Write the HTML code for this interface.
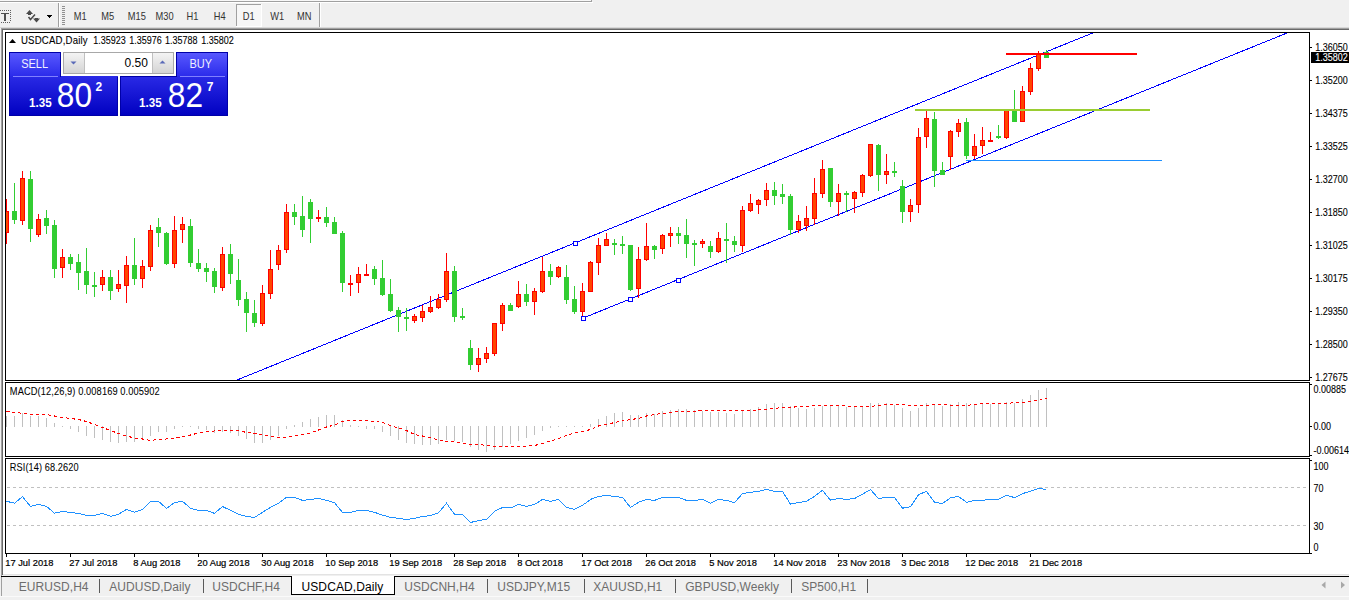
<!DOCTYPE html><html><head><meta charset="utf-8"><style>
html,body{margin:0;padding:0;width:1349px;height:600px;overflow:hidden;background:#f0f0f0;}
svg{position:absolute;left:0;top:0;display:block}
text{font-family:"Liberation Sans",sans-serif;}
.ax{font-size:10px;letter-spacing:-0.6px;fill:#000}
.dt{font-size:10px;letter-spacing:-0.5px;fill:#000}
.tb{font-size:10px;fill:#1a1a1a;letter-spacing:-0.5px}
.tab{font-size:12px;fill:#6d6d6d}
</style></head><body>
<svg width="1349" height="600" viewBox="0 0 1349 600" shape-rendering="crispEdges">
<rect x="0" y="0" width="1349" height="600" fill="#f0f0f0"/>
<rect x="0" y="0" width="591" height="1" fill="#f8f8f8"/>
<rect x="0" y="1" width="592" height="1" fill="#a0a0a0"/>
<rect x="591" y="0" width="1" height="2" fill="#a0a0a0"/>
<rect x="0" y="2" width="593" height="1" fill="#ffffff"/>
<rect x="0" y="10" width="1" height="1" fill="#606060"/>
<rect x="2" y="10" width="1" height="1" fill="#606060"/>
<rect x="4" y="10" width="1" height="1" fill="#606060"/>
<rect x="6" y="10" width="1" height="1" fill="#606060"/>
<rect x="8" y="10" width="1" height="1" fill="#606060"/>
<rect x="10" y="10" width="1" height="1" fill="#606060"/>
<rect x="10" y="12" width="1" height="1" fill="#606060"/>
<rect x="10" y="14" width="1" height="1" fill="#606060"/>
<rect x="10" y="16" width="1" height="1" fill="#606060"/>
<rect x="10" y="18" width="1" height="1" fill="#606060"/>
<rect x="10" y="20" width="1" height="1" fill="#606060"/>
<rect x="1" y="22" width="1" height="1" fill="#606060"/>
<rect x="3" y="22" width="1" height="1" fill="#606060"/>
<rect x="5" y="22" width="1" height="1" fill="#606060"/>
<rect x="7" y="22" width="1" height="1" fill="#606060"/>
<rect x="9" y="22" width="1" height="1" fill="#606060"/>
<rect x="1" y="13" width="8" height="1" fill="#505050"/><rect x="4" y="13" width="2" height="8" fill="#505050"/>
<g shape-rendering="geometricPrecision" fill="#4a4a4a"><path d="M26 14 L29.5 10 L33 14 Z"/><path d="M33 18.5 L40 18.5 L36.5 22.5 Z"/></g>
<rect x="28" y="14" width="3" height="1" fill="#4a4a4a"/><rect x="35" y="18" width="3" height="1" fill="#4a4a4a"/>
<path d="M28.5 17 L30.5 19.5 L35 14.5" stroke="#4a4a4a" stroke-width="1.5" fill="none" shape-rendering="geometricPrecision"/>
<rect x="47" y="15" width="5" height="1" fill="#000"/><rect x="48" y="16" width="3" height="1" fill="#000"/><rect x="49" y="17" width="1" height="1" fill="#000"/>
<rect x="58" y="3" width="1" height="25" fill="#a0a0a0"/><rect x="59" y="3" width="1" height="25" fill="#fff"/>
<rect x="62" y="6" width="3" height="1" fill="#909090"/>
<rect x="62" y="8" width="3" height="1" fill="#909090"/>
<rect x="62" y="10" width="3" height="1" fill="#909090"/>
<rect x="62" y="12" width="3" height="1" fill="#909090"/>
<rect x="62" y="14" width="3" height="1" fill="#909090"/>
<rect x="62" y="16" width="3" height="1" fill="#909090"/>
<rect x="62" y="18" width="3" height="1" fill="#909090"/>
<rect x="62" y="20" width="3" height="1" fill="#909090"/>
<rect x="62" y="22" width="3" height="1" fill="#909090"/>
<rect x="62" y="24" width="3" height="1" fill="#909090"/>
<rect x="319" y="3" width="1" height="25" fill="#a0a0a0"/><rect x="320" y="3" width="1" height="25" fill="#fff"/>
<rect x="236" y="4" width="26" height="23" fill="#f7f7f7"/>
<rect x="236" y="4" width="26" height="1" fill="#a0a0a0"/><rect x="236" y="4" width="1" height="23" fill="#a0a0a0"/>
<rect x="261" y="4" width="1" height="23" fill="#fff"/><rect x="236" y="26" width="26" height="1" fill="#fff"/>
<text transform="translate(73.8,20) scale(0.93,1)" style="font-size:10px;fill:#333;">M1</text>
<text transform="translate(101.3,20) scale(0.93,1)" style="font-size:10px;fill:#333;">M5</text>
<text transform="translate(127.8,20) scale(0.93,1)" style="font-size:10px;fill:#333;">M15</text>
<text transform="translate(155.60000000000002,20) scale(0.93,1)" style="font-size:10px;fill:#333;">M30</text>
<text transform="translate(186.60000000000002,20) scale(0.93,1)" style="font-size:10px;fill:#333;">H1</text>
<text transform="translate(213.70000000000002,20) scale(0.93,1)" style="font-size:10px;fill:#333;">H4</text>
<text transform="translate(242.70000000000002,20) scale(0.93,1)" style="font-size:10px;fill:#333;">D1</text>
<text transform="translate(270.3,20) scale(0.93,1)" style="font-size:10px;fill:#333;">W1</text>
<text transform="translate(297.1,20) scale(0.93,1)" style="font-size:10px;fill:#333;">MN</text>
<rect x="0" y="27" width="1349" height="1" fill="#d8d8d8"/>
<rect x="1" y="28" width="1348" height="1" fill="#a0a0a0"/>
<rect x="1" y="28" width="1" height="568" fill="#a0a0a0"/>
<rect x="2" y="29" width="1347" height="1" fill="#696969"/>
<rect x="2" y="29" width="1" height="546" fill="#696969"/>
<rect x="3" y="30" width="1346" height="544" fill="#ffffff"/>
<rect x="3" y="574" width="1346" height="1" fill="#e3e3e3"/>
<rect x="5" y="32" width="1305" height="1" fill="#000"/>
<rect x="5" y="380" width="1305" height="1" fill="#000"/>
<rect x="5" y="32" width="1" height="349" fill="#000"/>
<rect x="1309" y="32" width="1" height="349" fill="#000"/>
<rect x="5" y="382" width="1305" height="1" fill="#000"/>
<rect x="5" y="456" width="1305" height="1" fill="#000"/>
<rect x="5" y="382" width="1" height="75" fill="#000"/>
<rect x="1309" y="382" width="1" height="75" fill="#000"/>
<rect x="5" y="458" width="1305" height="1" fill="#000"/>
<rect x="5" y="553" width="1305" height="1" fill="#000"/>
<rect x="5" y="458" width="1" height="96" fill="#000"/>
<rect x="1309" y="458" width="1" height="96" fill="#000"/>
<defs><clipPath id="cm"><rect x="6" y="33" width="1303" height="347"/></clipPath>
<clipPath id="c2"><rect x="6" y="383" width="1303" height="73"/></clipPath>
<clipPath id="c3"><rect x="6" y="459" width="1303" height="94"/></clipPath></defs>
<g clip-path="url(#cm)">
<g shape-rendering="crispEdges" stroke="#0000ff" stroke-width="1" fill="none">
<line x1="237" y1="380" x2="1095" y2="32"/>
<line x1="582.5" y1="318.3" x2="1288" y2="32.6"/>
</g>
<rect x="6" y="199" width="1" height="45" fill="#ff0000"/>
<rect x="4" y="211" width="5" height="22" fill="#ff0000"/>
<rect x="5" y="212" width="3" height="20" fill="#ff4500"/>
<rect x="14" y="183" width="1" height="41" fill="#32cd32"/>
<rect x="12" y="211" width="5" height="9" fill="#32cd32"/>
<rect x="22" y="171" width="1" height="54" fill="#ff0000"/>
<rect x="20" y="178" width="5" height="43" fill="#ff0000"/>
<rect x="21" y="179" width="3" height="41" fill="#ff4500"/>
<rect x="30" y="171" width="1" height="71" fill="#32cd32"/>
<rect x="28" y="179" width="5" height="50" fill="#32cd32"/>
<rect x="38" y="214" width="1" height="23" fill="#ff0000"/>
<rect x="36" y="219" width="5" height="16" fill="#ff0000"/>
<rect x="37" y="220" width="3" height="14" fill="#ff4500"/>
<rect x="46" y="210" width="1" height="24" fill="#32cd32"/>
<rect x="44" y="218" width="5" height="8" fill="#32cd32"/>
<rect x="54" y="220" width="1" height="58" fill="#32cd32"/>
<rect x="52" y="225" width="5" height="44" fill="#32cd32"/>
<rect x="62" y="249" width="1" height="29" fill="#ff0000"/>
<rect x="60" y="257" width="5" height="11" fill="#ff0000"/>
<rect x="61" y="258" width="3" height="9" fill="#ff4500"/>
<rect x="70" y="254" width="1" height="16" fill="#32cd32"/>
<rect x="68" y="257" width="5" height="7" fill="#32cd32"/>
<rect x="78" y="254" width="1" height="36" fill="#32cd32"/>
<rect x="76" y="262" width="5" height="11" fill="#32cd32"/>
<rect x="86" y="248" width="1" height="46" fill="#32cd32"/>
<rect x="84" y="271" width="5" height="14" fill="#32cd32"/>
<rect x="94" y="272" width="1" height="25" fill="#32cd32"/>
<rect x="92" y="285" width="5" height="2" fill="#32cd32"/>
<rect x="102" y="270" width="1" height="21" fill="#ff0000"/>
<rect x="100" y="277" width="5" height="8" fill="#ff0000"/>
<rect x="101" y="278" width="3" height="6" fill="#ff4500"/>
<rect x="110" y="270" width="1" height="30" fill="#32cd32"/>
<rect x="108" y="277" width="5" height="14" fill="#32cd32"/>
<rect x="118" y="270" width="1" height="22" fill="#ff0000"/>
<rect x="116" y="284" width="5" height="5" fill="#ff0000"/>
<rect x="117" y="285" width="3" height="3" fill="#ff4500"/>
<rect x="126" y="256" width="1" height="47" fill="#ff0000"/>
<rect x="124" y="265" width="5" height="21" fill="#ff0000"/>
<rect x="125" y="266" width="3" height="19" fill="#ff4500"/>
<rect x="134" y="238" width="1" height="47" fill="#32cd32"/>
<rect x="132" y="265" width="5" height="14" fill="#32cd32"/>
<rect x="142" y="260" width="1" height="28" fill="#ff0000"/>
<rect x="140" y="266" width="5" height="13" fill="#ff0000"/>
<rect x="141" y="267" width="3" height="11" fill="#ff4500"/>
<rect x="150" y="225" width="1" height="46" fill="#ff0000"/>
<rect x="148" y="230" width="5" height="37" fill="#ff0000"/>
<rect x="149" y="231" width="3" height="35" fill="#ff4500"/>
<rect x="158" y="218" width="1" height="29" fill="#32cd32"/>
<rect x="156" y="227" width="5" height="6" fill="#32cd32"/>
<rect x="166" y="232" width="1" height="33" fill="#32cd32"/>
<rect x="164" y="233" width="5" height="31" fill="#32cd32"/>
<rect x="174" y="216" width="1" height="52" fill="#ff0000"/>
<rect x="172" y="230" width="5" height="34" fill="#ff0000"/>
<rect x="173" y="231" width="3" height="32" fill="#ff4500"/>
<rect x="182" y="217" width="1" height="26" fill="#ff0000"/>
<rect x="180" y="224" width="5" height="6" fill="#ff0000"/>
<rect x="181" y="225" width="3" height="4" fill="#ff4500"/>
<rect x="190" y="219" width="1" height="48" fill="#32cd32"/>
<rect x="188" y="226" width="5" height="37" fill="#32cd32"/>
<rect x="198" y="249" width="1" height="23" fill="#32cd32"/>
<rect x="196" y="263" width="5" height="6" fill="#32cd32"/>
<rect x="206" y="263" width="1" height="19" fill="#32cd32"/>
<rect x="204" y="268" width="5" height="4" fill="#32cd32"/>
<rect x="214" y="268" width="1" height="25" fill="#32cd32"/>
<rect x="212" y="271" width="5" height="16" fill="#32cd32"/>
<rect x="222" y="247" width="1" height="44" fill="#ff0000"/>
<rect x="220" y="254" width="5" height="34" fill="#ff0000"/>
<rect x="221" y="255" width="3" height="32" fill="#ff4500"/>
<rect x="230" y="244" width="1" height="40" fill="#32cd32"/>
<rect x="228" y="254" width="5" height="20" fill="#32cd32"/>
<rect x="238" y="259" width="1" height="47" fill="#32cd32"/>
<rect x="236" y="280" width="5" height="20" fill="#32cd32"/>
<rect x="246" y="292" width="1" height="40" fill="#32cd32"/>
<rect x="244" y="299" width="5" height="14" fill="#32cd32"/>
<rect x="254" y="300" width="1" height="27" fill="#32cd32"/>
<rect x="252" y="313" width="5" height="10" fill="#32cd32"/>
<rect x="262" y="285" width="1" height="41" fill="#ff0000"/>
<rect x="260" y="293" width="5" height="31" fill="#ff0000"/>
<rect x="261" y="294" width="3" height="29" fill="#ff4500"/>
<rect x="270" y="250" width="1" height="49" fill="#ff0000"/>
<rect x="268" y="269" width="5" height="25" fill="#ff0000"/>
<rect x="269" y="270" width="3" height="23" fill="#ff4500"/>
<rect x="278" y="245" width="1" height="25" fill="#ff0000"/>
<rect x="276" y="250" width="5" height="15" fill="#ff0000"/>
<rect x="277" y="251" width="3" height="13" fill="#ff4500"/>
<rect x="286" y="204" width="1" height="49" fill="#ff0000"/>
<rect x="284" y="212" width="5" height="38" fill="#ff0000"/>
<rect x="285" y="213" width="3" height="36" fill="#ff4500"/>
<rect x="294" y="204" width="1" height="21" fill="#32cd32"/>
<rect x="292" y="212" width="5" height="5" fill="#32cd32"/>
<rect x="302" y="196" width="1" height="41" fill="#32cd32"/>
<rect x="300" y="216" width="5" height="14" fill="#32cd32"/>
<rect x="310" y="199" width="1" height="44" fill="#32cd32"/>
<rect x="308" y="202" width="5" height="17" fill="#32cd32"/>
<rect x="318" y="210" width="1" height="12" fill="#ff0000"/>
<rect x="316" y="217" width="5" height="2" fill="#ff0000"/>
<rect x="326" y="207" width="1" height="20" fill="#32cd32"/>
<rect x="324" y="217" width="5" height="6" fill="#32cd32"/>
<rect x="334" y="217" width="1" height="17" fill="#32cd32"/>
<rect x="332" y="222" width="5" height="12" fill="#32cd32"/>
<rect x="342" y="231" width="1" height="61" fill="#32cd32"/>
<rect x="340" y="233" width="5" height="50" fill="#32cd32"/>
<rect x="350" y="275" width="1" height="21" fill="#ff0000"/>
<rect x="348" y="283" width="5" height="2" fill="#ff0000"/>
<rect x="358" y="267" width="1" height="26" fill="#ff0000"/>
<rect x="356" y="274" width="5" height="9" fill="#ff0000"/>
<rect x="357" y="275" width="3" height="7" fill="#ff4500"/>
<rect x="366" y="264" width="1" height="11" fill="#ff0000"/>
<rect x="364" y="274" width="5" height="2" fill="#ff0000"/>
<rect x="374" y="266" width="1" height="19" fill="#32cd32"/>
<rect x="372" y="269" width="5" height="10" fill="#32cd32"/>
<rect x="382" y="260" width="1" height="36" fill="#32cd32"/>
<rect x="380" y="278" width="5" height="17" fill="#32cd32"/>
<rect x="390" y="279" width="1" height="33" fill="#32cd32"/>
<rect x="388" y="294" width="5" height="17" fill="#32cd32"/>
<rect x="398" y="307" width="1" height="25" fill="#32cd32"/>
<rect x="396" y="310" width="5" height="7" fill="#32cd32"/>
<rect x="406" y="308" width="1" height="23" fill="#32cd32"/>
<rect x="404" y="317" width="5" height="2" fill="#32cd32"/>
<rect x="414" y="314" width="1" height="9" fill="#ff0000"/>
<rect x="412" y="316" width="5" height="5" fill="#ff0000"/>
<rect x="413" y="317" width="3" height="3" fill="#ff4500"/>
<rect x="422" y="305" width="1" height="17" fill="#ff0000"/>
<rect x="420" y="311" width="5" height="7" fill="#ff0000"/>
<rect x="421" y="312" width="3" height="5" fill="#ff4500"/>
<rect x="430" y="296" width="1" height="17" fill="#ff0000"/>
<rect x="428" y="307" width="5" height="5" fill="#ff0000"/>
<rect x="429" y="308" width="3" height="3" fill="#ff4500"/>
<rect x="438" y="294" width="1" height="15" fill="#ff0000"/>
<rect x="436" y="299" width="5" height="9" fill="#ff0000"/>
<rect x="437" y="300" width="3" height="7" fill="#ff4500"/>
<rect x="446" y="253" width="1" height="49" fill="#ff0000"/>
<rect x="444" y="271" width="5" height="29" fill="#ff0000"/>
<rect x="445" y="272" width="3" height="27" fill="#ff4500"/>
<rect x="454" y="266" width="1" height="56" fill="#32cd32"/>
<rect x="452" y="271" width="5" height="46" fill="#32cd32"/>
<rect x="462" y="308" width="1" height="12" fill="#32cd32"/>
<rect x="460" y="316" width="5" height="2" fill="#32cd32"/>
<rect x="470" y="340" width="1" height="30" fill="#32cd32"/>
<rect x="468" y="348" width="5" height="17" fill="#32cd32"/>
<rect x="478" y="348" width="1" height="24" fill="#ff0000"/>
<rect x="476" y="358" width="5" height="7" fill="#ff0000"/>
<rect x="477" y="359" width="3" height="5" fill="#ff4500"/>
<rect x="486" y="347" width="1" height="16" fill="#ff0000"/>
<rect x="484" y="353" width="5" height="6" fill="#ff0000"/>
<rect x="485" y="354" width="3" height="4" fill="#ff4500"/>
<rect x="494" y="323" width="1" height="33" fill="#ff0000"/>
<rect x="492" y="323" width="5" height="31" fill="#ff0000"/>
<rect x="493" y="324" width="3" height="29" fill="#ff4500"/>
<rect x="502" y="303" width="1" height="28" fill="#ff0000"/>
<rect x="500" y="305" width="5" height="19" fill="#ff0000"/>
<rect x="501" y="306" width="3" height="17" fill="#ff4500"/>
<rect x="510" y="303" width="1" height="8" fill="#32cd32"/>
<rect x="508" y="305" width="5" height="6" fill="#32cd32"/>
<rect x="518" y="281" width="1" height="27" fill="#ff0000"/>
<rect x="516" y="294" width="5" height="13" fill="#ff0000"/>
<rect x="517" y="295" width="3" height="11" fill="#ff4500"/>
<rect x="526" y="284" width="1" height="22" fill="#32cd32"/>
<rect x="524" y="294" width="5" height="8" fill="#32cd32"/>
<rect x="534" y="288" width="1" height="27" fill="#ff0000"/>
<rect x="532" y="291" width="5" height="11" fill="#ff0000"/>
<rect x="533" y="292" width="3" height="9" fill="#ff4500"/>
<rect x="542" y="257" width="1" height="36" fill="#ff0000"/>
<rect x="540" y="271" width="5" height="21" fill="#ff0000"/>
<rect x="541" y="272" width="3" height="19" fill="#ff4500"/>
<rect x="550" y="264" width="1" height="21" fill="#32cd32"/>
<rect x="548" y="271" width="5" height="6" fill="#32cd32"/>
<rect x="558" y="266" width="1" height="12" fill="#ff0000"/>
<rect x="556" y="267" width="5" height="10" fill="#ff0000"/>
<rect x="557" y="268" width="3" height="8" fill="#ff4500"/>
<rect x="566" y="265" width="1" height="39" fill="#32cd32"/>
<rect x="564" y="277" width="5" height="23" fill="#32cd32"/>
<rect x="574" y="286" width="1" height="28" fill="#32cd32"/>
<rect x="572" y="299" width="5" height="13" fill="#32cd32"/>
<rect x="582" y="283" width="1" height="34" fill="#ff0000"/>
<rect x="580" y="291" width="5" height="21" fill="#ff0000"/>
<rect x="581" y="292" width="3" height="19" fill="#ff4500"/>
<rect x="590" y="261" width="1" height="31" fill="#ff0000"/>
<rect x="588" y="262" width="5" height="30" fill="#ff0000"/>
<rect x="589" y="263" width="3" height="28" fill="#ff4500"/>
<rect x="598" y="238" width="1" height="37" fill="#ff0000"/>
<rect x="596" y="245" width="5" height="18" fill="#ff0000"/>
<rect x="597" y="246" width="3" height="16" fill="#ff4500"/>
<rect x="606" y="233" width="1" height="13" fill="#ff0000"/>
<rect x="604" y="239" width="5" height="7" fill="#ff0000"/>
<rect x="605" y="240" width="3" height="5" fill="#ff4500"/>
<rect x="614" y="239" width="1" height="16" fill="#32cd32"/>
<rect x="612" y="243" width="5" height="2" fill="#32cd32"/>
<rect x="622" y="236" width="1" height="18" fill="#32cd32"/>
<rect x="620" y="244" width="5" height="2" fill="#32cd32"/>
<rect x="630" y="245" width="1" height="46" fill="#32cd32"/>
<rect x="628" y="245" width="5" height="45" fill="#32cd32"/>
<rect x="638" y="247" width="1" height="51" fill="#ff0000"/>
<rect x="636" y="259" width="5" height="30" fill="#ff0000"/>
<rect x="637" y="260" width="3" height="28" fill="#ff4500"/>
<rect x="646" y="223" width="1" height="38" fill="#ff0000"/>
<rect x="644" y="246" width="5" height="14" fill="#ff0000"/>
<rect x="645" y="247" width="3" height="12" fill="#ff4500"/>
<rect x="654" y="245" width="1" height="14" fill="#32cd32"/>
<rect x="652" y="246" width="5" height="4" fill="#32cd32"/>
<rect x="662" y="234" width="1" height="20" fill="#ff0000"/>
<rect x="660" y="235" width="5" height="14" fill="#ff0000"/>
<rect x="661" y="236" width="3" height="12" fill="#ff4500"/>
<rect x="670" y="227" width="1" height="20" fill="#ff0000"/>
<rect x="668" y="233" width="5" height="3" fill="#ff0000"/>
<rect x="669" y="234" width="3" height="1" fill="#ff4500"/>
<rect x="678" y="227" width="1" height="17" fill="#32cd32"/>
<rect x="676" y="233" width="5" height="3" fill="#32cd32"/>
<rect x="686" y="219" width="1" height="39" fill="#32cd32"/>
<rect x="684" y="235" width="5" height="9" fill="#32cd32"/>
<rect x="694" y="240" width="1" height="26" fill="#32cd32"/>
<rect x="692" y="243" width="5" height="2" fill="#32cd32"/>
<rect x="702" y="239" width="1" height="9" fill="#ff0000"/>
<rect x="700" y="241" width="5" height="3" fill="#ff0000"/>
<rect x="701" y="242" width="3" height="1" fill="#ff4500"/>
<rect x="710" y="241" width="1" height="17" fill="#32cd32"/>
<rect x="708" y="246" width="5" height="6" fill="#32cd32"/>
<rect x="718" y="232" width="1" height="21" fill="#ff0000"/>
<rect x="716" y="238" width="5" height="14" fill="#ff0000"/>
<rect x="717" y="239" width="3" height="12" fill="#ff4500"/>
<rect x="726" y="223" width="1" height="40" fill="#32cd32"/>
<rect x="724" y="239" width="5" height="2" fill="#32cd32"/>
<rect x="734" y="236" width="1" height="16" fill="#32cd32"/>
<rect x="732" y="241" width="5" height="4" fill="#32cd32"/>
<rect x="742" y="206" width="1" height="46" fill="#ff0000"/>
<rect x="740" y="210" width="5" height="36" fill="#ff0000"/>
<rect x="741" y="211" width="3" height="34" fill="#ff4500"/>
<rect x="750" y="194" width="1" height="18" fill="#ff0000"/>
<rect x="748" y="203" width="5" height="8" fill="#ff0000"/>
<rect x="749" y="204" width="3" height="6" fill="#ff4500"/>
<rect x="758" y="199" width="1" height="15" fill="#ff0000"/>
<rect x="756" y="200" width="5" height="5" fill="#ff0000"/>
<rect x="757" y="201" width="3" height="3" fill="#ff4500"/>
<rect x="766" y="183" width="1" height="23" fill="#ff0000"/>
<rect x="764" y="190" width="5" height="10" fill="#ff0000"/>
<rect x="765" y="191" width="3" height="8" fill="#ff4500"/>
<rect x="774" y="182" width="1" height="23" fill="#32cd32"/>
<rect x="772" y="190" width="5" height="6" fill="#32cd32"/>
<rect x="782" y="184" width="1" height="20" fill="#32cd32"/>
<rect x="780" y="194" width="5" height="3" fill="#32cd32"/>
<rect x="790" y="194" width="1" height="41" fill="#32cd32"/>
<rect x="788" y="196" width="5" height="34" fill="#32cd32"/>
<rect x="798" y="215" width="1" height="18" fill="#ff0000"/>
<rect x="796" y="221" width="5" height="9" fill="#ff0000"/>
<rect x="797" y="222" width="3" height="7" fill="#ff4500"/>
<rect x="806" y="206" width="1" height="25" fill="#ff0000"/>
<rect x="804" y="218" width="5" height="8" fill="#ff0000"/>
<rect x="805" y="219" width="3" height="6" fill="#ff4500"/>
<rect x="814" y="178" width="1" height="47" fill="#ff0000"/>
<rect x="812" y="193" width="5" height="26" fill="#ff0000"/>
<rect x="813" y="194" width="3" height="24" fill="#ff4500"/>
<rect x="822" y="160" width="1" height="38" fill="#ff0000"/>
<rect x="820" y="169" width="5" height="25" fill="#ff0000"/>
<rect x="821" y="170" width="3" height="23" fill="#ff4500"/>
<rect x="830" y="168" width="1" height="39" fill="#32cd32"/>
<rect x="828" y="168" width="5" height="34" fill="#32cd32"/>
<rect x="838" y="184" width="1" height="32" fill="#ff0000"/>
<rect x="836" y="193" width="5" height="9" fill="#ff0000"/>
<rect x="837" y="194" width="3" height="7" fill="#ff4500"/>
<rect x="846" y="191" width="1" height="21" fill="#32cd32"/>
<rect x="844" y="193" width="5" height="2" fill="#32cd32"/>
<rect x="854" y="191" width="1" height="22" fill="#ff0000"/>
<rect x="852" y="192" width="5" height="7" fill="#ff0000"/>
<rect x="853" y="193" width="3" height="5" fill="#ff4500"/>
<rect x="862" y="174" width="1" height="23" fill="#ff0000"/>
<rect x="860" y="175" width="5" height="18" fill="#ff0000"/>
<rect x="861" y="176" width="3" height="16" fill="#ff4500"/>
<rect x="870" y="144" width="1" height="33" fill="#ff0000"/>
<rect x="868" y="144" width="5" height="32" fill="#ff0000"/>
<rect x="869" y="145" width="3" height="30" fill="#ff4500"/>
<rect x="878" y="144" width="1" height="47" fill="#32cd32"/>
<rect x="876" y="145" width="5" height="30" fill="#32cd32"/>
<rect x="886" y="154" width="1" height="30" fill="#ff0000"/>
<rect x="884" y="171" width="5" height="4" fill="#ff0000"/>
<rect x="885" y="172" width="3" height="2" fill="#ff4500"/>
<rect x="894" y="162" width="1" height="15" fill="#32cd32"/>
<rect x="892" y="171" width="5" height="2" fill="#32cd32"/>
<rect x="902" y="180" width="1" height="43" fill="#32cd32"/>
<rect x="900" y="186" width="5" height="26" fill="#32cd32"/>
<rect x="910" y="199" width="1" height="23" fill="#ff0000"/>
<rect x="908" y="205" width="5" height="7" fill="#ff0000"/>
<rect x="909" y="206" width="3" height="5" fill="#ff4500"/>
<rect x="918" y="128" width="1" height="85" fill="#ff0000"/>
<rect x="916" y="137" width="5" height="68" fill="#ff0000"/>
<rect x="917" y="138" width="3" height="66" fill="#ff4500"/>
<rect x="926" y="111" width="1" height="37" fill="#ff0000"/>
<rect x="924" y="118" width="5" height="19" fill="#ff0000"/>
<rect x="925" y="119" width="3" height="17" fill="#ff4500"/>
<rect x="934" y="112" width="1" height="75" fill="#32cd32"/>
<rect x="932" y="119" width="5" height="52" fill="#32cd32"/>
<rect x="942" y="162" width="1" height="13" fill="#32cd32"/>
<rect x="940" y="170" width="5" height="5" fill="#32cd32"/>
<rect x="950" y="130" width="1" height="40" fill="#ff0000"/>
<rect x="948" y="131" width="5" height="26" fill="#ff0000"/>
<rect x="949" y="132" width="3" height="24" fill="#ff4500"/>
<rect x="958" y="119" width="1" height="18" fill="#ff0000"/>
<rect x="956" y="123" width="5" height="9" fill="#ff0000"/>
<rect x="957" y="124" width="3" height="7" fill="#ff4500"/>
<rect x="966" y="118" width="1" height="41" fill="#32cd32"/>
<rect x="964" y="122" width="5" height="34" fill="#32cd32"/>
<rect x="974" y="134" width="1" height="25" fill="#ff0000"/>
<rect x="972" y="146" width="5" height="10" fill="#ff0000"/>
<rect x="973" y="147" width="3" height="8" fill="#ff4500"/>
<rect x="982" y="127" width="1" height="27" fill="#ff0000"/>
<rect x="980" y="140" width="5" height="6" fill="#ff0000"/>
<rect x="981" y="141" width="3" height="4" fill="#ff4500"/>
<rect x="990" y="132" width="1" height="9" fill="#ff0000"/>
<rect x="988" y="140" width="5" height="2" fill="#ff0000"/>
<rect x="998" y="125" width="1" height="14" fill="#32cd32"/>
<rect x="996" y="136" width="5" height="2" fill="#32cd32"/>
<rect x="1006" y="110" width="1" height="29" fill="#ff0000"/>
<rect x="1004" y="110" width="5" height="28" fill="#ff0000"/>
<rect x="1005" y="111" width="3" height="26" fill="#ff4500"/>
<rect x="1014" y="90" width="1" height="32" fill="#32cd32"/>
<rect x="1012" y="110" width="5" height="12" fill="#32cd32"/>
<rect x="1022" y="86" width="1" height="36" fill="#ff0000"/>
<rect x="1020" y="91" width="5" height="31" fill="#ff0000"/>
<rect x="1021" y="92" width="3" height="29" fill="#ff4500"/>
<rect x="1030" y="63" width="1" height="32" fill="#ff0000"/>
<rect x="1028" y="68" width="5" height="24" fill="#ff0000"/>
<rect x="1029" y="69" width="3" height="22" fill="#ff4500"/>
<rect x="1038" y="51" width="1" height="20" fill="#ff0000"/>
<rect x="1036" y="54" width="5" height="15" fill="#ff0000"/>
<rect x="1037" y="55" width="3" height="13" fill="#ff4500"/>
<rect x="1046" y="50" width="1" height="8" fill="#32cd32"/>
<rect x="1044" y="52" width="5" height="6" fill="#32cd32"/>
<rect x="1006" y="53" width="131" height="2" fill="#ff0000"/>
<rect x="915" y="109" width="235" height="2" fill="#9acd32"/>
<rect x="966" y="160" width="196" height="1" fill="#1e90ff"/>
<rect x="573.5" y="241.5" width="4" height="4" fill="#fff" stroke="#0000ff" stroke-width="1"/>
<rect x="581.5" y="316.5" width="4" height="4" fill="#fff" stroke="#0000ff" stroke-width="1"/>
<rect x="628.5" y="297.5" width="4" height="4" fill="#fff" stroke="#0000ff" stroke-width="1"/>
<rect x="676.5" y="278.5" width="4" height="4" fill="#fff" stroke="#0000ff" stroke-width="1"/>
</g>
<g clip-path="url(#c2)">
<rect x="6" y="416" width="1" height="11" fill="#c0c0c0"/>
<rect x="14" y="416" width="1" height="11" fill="#c0c0c0"/>
<rect x="22" y="413" width="1" height="14" fill="#c0c0c0"/>
<rect x="30" y="416" width="1" height="11" fill="#c0c0c0"/>
<rect x="38" y="416" width="1" height="11" fill="#c0c0c0"/>
<rect x="46" y="418" width="1" height="9" fill="#c0c0c0"/>
<rect x="54" y="423" width="1" height="4" fill="#c0c0c0"/>
<rect x="62" y="426" width="1" height="1" fill="#c0c0c0"/>
<rect x="70" y="426" width="1" height="3" fill="#c0c0c0"/>
<rect x="78" y="426" width="1" height="6" fill="#c0c0c0"/>
<rect x="86" y="426" width="1" height="10" fill="#c0c0c0"/>
<rect x="94" y="426" width="1" height="12" fill="#c0c0c0"/>
<rect x="102" y="426" width="1" height="14" fill="#c0c0c0"/>
<rect x="110" y="426" width="1" height="16" fill="#c0c0c0"/>
<rect x="118" y="426" width="1" height="17" fill="#c0c0c0"/>
<rect x="126" y="426" width="1" height="16" fill="#c0c0c0"/>
<rect x="134" y="426" width="1" height="16" fill="#c0c0c0"/>
<rect x="142" y="426" width="1" height="14" fill="#c0c0c0"/>
<rect x="150" y="426" width="1" height="10" fill="#c0c0c0"/>
<rect x="158" y="426" width="1" height="6" fill="#c0c0c0"/>
<rect x="166" y="426" width="1" height="6" fill="#c0c0c0"/>
<rect x="174" y="426" width="1" height="3" fill="#c0c0c0"/>
<rect x="182" y="426" width="1" height="1" fill="#c0c0c0"/>
<rect x="190" y="426" width="1" height="1" fill="#c0c0c0"/>
<rect x="198" y="426" width="1" height="3" fill="#c0c0c0"/>
<rect x="206" y="426" width="1" height="4" fill="#c0c0c0"/>
<rect x="214" y="426" width="1" height="7" fill="#c0c0c0"/>
<rect x="222" y="426" width="1" height="6" fill="#c0c0c0"/>
<rect x="230" y="426" width="1" height="7" fill="#c0c0c0"/>
<rect x="238" y="426" width="1" height="10" fill="#c0c0c0"/>
<rect x="246" y="426" width="1" height="13" fill="#c0c0c0"/>
<rect x="254" y="426" width="1" height="17" fill="#c0c0c0"/>
<rect x="262" y="426" width="1" height="17" fill="#c0c0c0"/>
<rect x="270" y="426" width="1" height="14" fill="#c0c0c0"/>
<rect x="278" y="426" width="1" height="10" fill="#c0c0c0"/>
<rect x="286" y="426" width="1" height="3" fill="#c0c0c0"/>
<rect x="294" y="425" width="1" height="2" fill="#c0c0c0"/>
<rect x="302" y="422" width="1" height="5" fill="#c0c0c0"/>
<rect x="310" y="419" width="1" height="8" fill="#c0c0c0"/>
<rect x="318" y="417" width="1" height="10" fill="#c0c0c0"/>
<rect x="326" y="415" width="1" height="12" fill="#c0c0c0"/>
<rect x="334" y="415" width="1" height="12" fill="#c0c0c0"/>
<rect x="342" y="420" width="1" height="7" fill="#c0c0c0"/>
<rect x="350" y="425" width="1" height="2" fill="#c0c0c0"/>
<rect x="358" y="426" width="1" height="1" fill="#c0c0c0"/>
<rect x="366" y="426" width="1" height="3" fill="#c0c0c0"/>
<rect x="374" y="426" width="1" height="3" fill="#c0c0c0"/>
<rect x="382" y="426" width="1" height="6" fill="#c0c0c0"/>
<rect x="390" y="426" width="1" height="10" fill="#c0c0c0"/>
<rect x="398" y="426" width="1" height="14" fill="#c0c0c0"/>
<rect x="406" y="426" width="1" height="17" fill="#c0c0c0"/>
<rect x="414" y="426" width="1" height="18" fill="#c0c0c0"/>
<rect x="422" y="426" width="1" height="19" fill="#c0c0c0"/>
<rect x="430" y="426" width="1" height="19" fill="#c0c0c0"/>
<rect x="438" y="426" width="1" height="18" fill="#c0c0c0"/>
<rect x="446" y="426" width="1" height="14" fill="#c0c0c0"/>
<rect x="454" y="426" width="1" height="15" fill="#c0c0c0"/>
<rect x="462" y="426" width="1" height="16" fill="#c0c0c0"/>
<rect x="470" y="426" width="1" height="21" fill="#c0c0c0"/>
<rect x="478" y="426" width="1" height="24" fill="#c0c0c0"/>
<rect x="486" y="426" width="1" height="26" fill="#c0c0c0"/>
<rect x="494" y="426" width="1" height="24" fill="#c0c0c0"/>
<rect x="502" y="426" width="1" height="21" fill="#c0c0c0"/>
<rect x="510" y="426" width="1" height="18" fill="#c0c0c0"/>
<rect x="518" y="426" width="1" height="15" fill="#c0c0c0"/>
<rect x="526" y="426" width="1" height="12" fill="#c0c0c0"/>
<rect x="534" y="426" width="1" height="9" fill="#c0c0c0"/>
<rect x="542" y="426" width="1" height="5" fill="#c0c0c0"/>
<rect x="550" y="426" width="1" height="2" fill="#c0c0c0"/>
<rect x="558" y="426" width="1" height="1" fill="#c0c0c0"/>
<rect x="566" y="426" width="1" height="1" fill="#c0c0c0"/>
<rect x="574" y="426" width="1" height="1" fill="#c0c0c0"/>
<rect x="582" y="426" width="1" height="1" fill="#c0c0c0"/>
<rect x="590" y="424" width="1" height="3" fill="#c0c0c0"/>
<rect x="598" y="419" width="1" height="8" fill="#c0c0c0"/>
<rect x="606" y="416" width="1" height="11" fill="#c0c0c0"/>
<rect x="614" y="413" width="1" height="14" fill="#c0c0c0"/>
<rect x="622" y="412" width="1" height="15" fill="#c0c0c0"/>
<rect x="630" y="415" width="1" height="12" fill="#c0c0c0"/>
<rect x="638" y="415" width="1" height="12" fill="#c0c0c0"/>
<rect x="646" y="413" width="1" height="14" fill="#c0c0c0"/>
<rect x="654" y="414" width="1" height="13" fill="#c0c0c0"/>
<rect x="662" y="411" width="1" height="16" fill="#c0c0c0"/>
<rect x="670" y="410" width="1" height="17" fill="#c0c0c0"/>
<rect x="678" y="409" width="1" height="18" fill="#c0c0c0"/>
<rect x="686" y="409" width="1" height="18" fill="#c0c0c0"/>
<rect x="694" y="410" width="1" height="17" fill="#c0c0c0"/>
<rect x="702" y="411" width="1" height="16" fill="#c0c0c0"/>
<rect x="710" y="412" width="1" height="15" fill="#c0c0c0"/>
<rect x="718" y="412" width="1" height="15" fill="#c0c0c0"/>
<rect x="726" y="413" width="1" height="14" fill="#c0c0c0"/>
<rect x="734" y="414" width="1" height="13" fill="#c0c0c0"/>
<rect x="742" y="411" width="1" height="16" fill="#c0c0c0"/>
<rect x="750" y="409" width="1" height="18" fill="#c0c0c0"/>
<rect x="758" y="407" width="1" height="20" fill="#c0c0c0"/>
<rect x="766" y="404" width="1" height="23" fill="#c0c0c0"/>
<rect x="774" y="403" width="1" height="24" fill="#c0c0c0"/>
<rect x="782" y="403" width="1" height="24" fill="#c0c0c0"/>
<rect x="790" y="406" width="1" height="21" fill="#c0c0c0"/>
<rect x="798" y="408" width="1" height="19" fill="#c0c0c0"/>
<rect x="806" y="409" width="1" height="18" fill="#c0c0c0"/>
<rect x="814" y="408" width="1" height="19" fill="#c0c0c0"/>
<rect x="822" y="406" width="1" height="21" fill="#c0c0c0"/>
<rect x="830" y="406" width="1" height="21" fill="#c0c0c0"/>
<rect x="838" y="406" width="1" height="21" fill="#c0c0c0"/>
<rect x="846" y="407" width="1" height="20" fill="#c0c0c0"/>
<rect x="854" y="407" width="1" height="20" fill="#c0c0c0"/>
<rect x="862" y="406" width="1" height="21" fill="#c0c0c0"/>
<rect x="870" y="403" width="1" height="24" fill="#c0c0c0"/>
<rect x="878" y="403" width="1" height="24" fill="#c0c0c0"/>
<rect x="886" y="403" width="1" height="24" fill="#c0c0c0"/>
<rect x="894" y="405" width="1" height="22" fill="#c0c0c0"/>
<rect x="902" y="408" width="1" height="19" fill="#c0c0c0"/>
<rect x="910" y="411" width="1" height="16" fill="#c0c0c0"/>
<rect x="918" y="408" width="1" height="19" fill="#c0c0c0"/>
<rect x="926" y="403" width="1" height="24" fill="#c0c0c0"/>
<rect x="934" y="404" width="1" height="23" fill="#c0c0c0"/>
<rect x="942" y="406" width="1" height="21" fill="#c0c0c0"/>
<rect x="950" y="404" width="1" height="23" fill="#c0c0c0"/>
<rect x="958" y="402" width="1" height="25" fill="#c0c0c0"/>
<rect x="966" y="403" width="1" height="24" fill="#c0c0c0"/>
<rect x="974" y="405" width="1" height="22" fill="#c0c0c0"/>
<rect x="982" y="404" width="1" height="23" fill="#c0c0c0"/>
<rect x="990" y="404" width="1" height="23" fill="#c0c0c0"/>
<rect x="998" y="404" width="1" height="23" fill="#c0c0c0"/>
<rect x="1006" y="402" width="1" height="25" fill="#c0c0c0"/>
<rect x="1014" y="403" width="1" height="24" fill="#c0c0c0"/>
<rect x="1022" y="399" width="1" height="28" fill="#c0c0c0"/>
<rect x="1030" y="395" width="1" height="32" fill="#c0c0c0"/>
<rect x="1038" y="390" width="1" height="37" fill="#c0c0c0"/>
<rect x="1046" y="388" width="1" height="39" fill="#c0c0c0"/>
<polyline points="6.5,411.5 14.5,412.5 22.5,413.3 30.5,414.5 38.5,414.5 46.5,414.5 54.5,416 62.5,417.5 70.5,418.5 78.5,419.5 86.5,421.5 94.5,424.5 102.5,427.5 110.5,430.5 118.5,433.5 126.5,436 134.5,438 142.5,439 150.5,440.5 158.5,439.5 166.5,439 174.5,438 182.5,436.5 190.5,435 198.5,433 206.5,431.5 214.5,431 222.5,430.5 230.5,430.5 238.5,430.5 246.5,432.5 254.5,433.5 262.5,435 270.5,436 278.5,437.5 286.5,437.5 294.5,436 302.5,434.5 310.5,433 318.5,430 326.5,427 334.5,425 342.5,421.5 350.5,420.5 358.5,420.5 366.5,420.5 374.5,421.5 382.5,422.5 390.5,425.5 398.5,428 406.5,430.5 414.5,434.5 422.5,436 430.5,437.5 438.5,440 446.5,441.5 454.5,442 462.5,443.5 470.5,444.5 478.5,444.5 486.5,445.5 494.5,446.5 502.5,446.5 510.5,446.5 518.5,446.5 526.5,446.2 534.5,445.5 542.5,443.5 550.5,441 558.5,438.5 566.5,435.5 574.5,433 582.5,431.5 590.5,429.5 598.5,426 606.5,424.5 614.5,422.5 622.5,421 630.5,419.5 638.5,418.5 646.5,416 654.5,414.5 662.5,413.5 670.5,412.5 678.5,411.5 686.5,411.5 694.5,411.5 702.5,410.5 710.5,410.5 718.5,410.5 726.5,410.5 734.5,410.5 742.5,410.5 750.5,410.5 758.5,410 766.5,409.3 774.5,408.5 782.5,407.5 790.5,407.5 798.5,406.5 806.5,406.5 814.5,405.5 822.5,405.5 830.5,405.5 838.5,405.5 846.5,406 854.5,406.5 862.5,406.5 870.5,406.5 878.5,405.5 886.5,404.5 894.5,404.5 902.5,404.6 910.5,405.3 918.5,405.3 926.5,405.3 934.5,404.6 942.5,404.6 950.5,405.3 958.5,405.3 966.5,405.3 974.5,404.6 982.5,403.6 990.5,403.6 998.5,403.6 1006.5,403.6 1014.5,402.5 1022.5,402.5 1030.5,401.4 1038.5,399.6 1046.5,398.4" fill="none" stroke="#ff0000" stroke-width="1" stroke-dasharray="3,3"/>
</g>
<g clip-path="url(#c3)">
<line x1="7" y1="487.5" x2="1309" y2="487.5" stroke="#c0c0c0" stroke-dasharray="3,3"/>
<line x1="7" y1="525.5" x2="1309" y2="525.5" stroke="#c0c0c0" stroke-dasharray="3,3"/>
<polyline points="6.5,501.3 14.5,503.2 22.5,496.6 30.5,506.4 38.5,504.5 46.5,506.4 54.5,513.2 62.5,511.5 70.5,512.4 78.5,513.4 86.5,515.4 94.5,515.4 102.5,513.4 110.5,516.3 118.5,514.3 126.5,509.4 134.5,512.3 142.5,509.4 150.5,501.3 158.5,501.3 166.5,508.5 174.5,502.6 182.5,501.3 190.5,508.3 198.5,510.4 206.5,510.4 214.5,513.4 222.5,506.6 230.5,510.2 238.5,514.3 246.5,516.3 254.5,517.5 262.5,512.3 270.5,507.3 278.5,503.2 286.5,497.4 294.5,497.4 302.5,500.4 310.5,499.4 318.5,498.5 326.5,500.4 334.5,502.6 342.5,512.4 350.5,512.4 358.5,510.4 366.5,510.4 374.5,512.3 382.5,515.1 390.5,517.3 398.5,518.4 406.5,519.4 414.5,518.4 422.5,516.5 430.5,515.6 438.5,512.7 446.5,503.2 454.5,514.3 462.5,514.3 470.5,522.5 478.5,520.6 486.5,519.4 494.5,511.3 502.5,507.5 510.5,508 518.5,504.5 526.5,506.4 534.5,504.5 542.5,499.4 550.5,501.3 558.5,499.4 566.5,507.5 574.5,509.4 582.5,505.4 590.5,499.4 598.5,496.4 606.5,495.4 614.5,496.4 622.5,497.4 630.5,507.5 638.5,502.3 646.5,499.4 654.5,500.4 662.5,497.4 670.5,497.4 678.5,497.4 686.5,500.4 694.5,500.4 702.5,499.4 710.5,503.2 718.5,499.4 726.5,500.4 734.5,502.6 742.5,493.5 750.5,492.3 758.5,491.4 766.5,489.3 774.5,491.4 782.5,491.4 790.5,504.2 798.5,502.6 806.5,501.3 814.5,496.3 822.5,490.4 830.5,500.2 838.5,498.5 846.5,499.4 854.5,498.5 862.5,494.2 870.5,489.5 878.5,498.5 886.5,497.4 894.5,497.4 902.5,508.2 910.5,506.7 918.5,494.8 926.5,491.3 934.5,502.3 942.5,503.5 950.5,497.8 958.5,496.4 966.5,502.3 974.5,500.4 982.5,500.4 990.5,499.2 998.5,499.2 1006.5,495.2 1014.5,497.6 1022.5,493.6 1030.5,491.3 1038.5,488.5 1046.5,489.5" fill="none" stroke="#1e90ff" stroke-width="1"/>
</g>
<rect x="1310" y="47" width="2" height="1" fill="#000"/>
<text transform="translate(1315.3,51) scale(0.9,1)" style="font-size:10px;fill:#000;" stroke="#000" stroke-width="0.1">1.36050</text>
<rect x="1310" y="80" width="2" height="1" fill="#000"/>
<text transform="translate(1315.3,84) scale(0.9,1)" style="font-size:10px;fill:#000;" stroke="#000" stroke-width="0.1">1.35200</text>
<rect x="1310" y="113" width="2" height="1" fill="#000"/>
<text transform="translate(1315.3,117) scale(0.9,1)" style="font-size:10px;fill:#000;" stroke="#000" stroke-width="0.1">1.34375</text>
<rect x="1310" y="146" width="2" height="1" fill="#000"/>
<text transform="translate(1315.3,150) scale(0.9,1)" style="font-size:10px;fill:#000;" stroke="#000" stroke-width="0.1">1.33525</text>
<rect x="1310" y="179" width="2" height="1" fill="#000"/>
<text transform="translate(1315.3,183) scale(0.9,1)" style="font-size:10px;fill:#000;" stroke="#000" stroke-width="0.1">1.32700</text>
<rect x="1310" y="212" width="2" height="1" fill="#000"/>
<text transform="translate(1315.3,216) scale(0.9,1)" style="font-size:10px;fill:#000;" stroke="#000" stroke-width="0.1">1.31850</text>
<rect x="1310" y="245" width="2" height="1" fill="#000"/>
<text transform="translate(1315.3,249) scale(0.9,1)" style="font-size:10px;fill:#000;" stroke="#000" stroke-width="0.1">1.31025</text>
<rect x="1310" y="278" width="2" height="1" fill="#000"/>
<text transform="translate(1315.3,282) scale(0.9,1)" style="font-size:10px;fill:#000;" stroke="#000" stroke-width="0.1">1.30175</text>
<rect x="1310" y="311" width="2" height="1" fill="#000"/>
<text transform="translate(1315.3,315) scale(0.9,1)" style="font-size:10px;fill:#000;" stroke="#000" stroke-width="0.1">1.29350</text>
<rect x="1310" y="344" width="2" height="1" fill="#000"/>
<text transform="translate(1315.3,348) scale(0.9,1)" style="font-size:10px;fill:#000;" stroke="#000" stroke-width="0.1">1.28500</text>
<rect x="1310" y="377" width="2" height="1" fill="#000"/>
<text transform="translate(1315.3,381) scale(0.9,1)" style="font-size:10px;fill:#000;" stroke="#000" stroke-width="0.1">1.27675</text>
<rect x="1311" y="52" width="38" height="11" fill="#000"/>
<text transform="translate(1315.3,61) scale(0.9,1)" style="font-size:10px;fill:#fff;" stroke="#fff" stroke-width="0.1">1.35802</text>
<rect x="1310" y="384" width="2" height="1" fill="#000"/>
<text transform="translate(1313.5,393) scale(0.9,1)" style="font-size:10px;fill:#000;" stroke="#000" stroke-width="0.1">0.00885</text>
<rect x="1310" y="426" width="2" height="1" fill="#000"/>
<text transform="translate(1313.5,430) scale(0.9,1)" style="font-size:10px;fill:#000;" stroke="#000" stroke-width="0.1">0.00</text>
<rect x="1310" y="455" width="2" height="1" fill="#000"/>
<text transform="translate(1313.5,454) scale(0.9,1)" style="font-size:10px;fill:#000;" stroke="#000" stroke-width="0.1">-0.00614</text>
<rect x="1310" y="460" width="2" height="1" fill="#000"/>
<text transform="translate(1313.5,470) scale(0.9,1)" style="font-size:10px;fill:#000;" stroke="#000" stroke-width="0.1">100</text>
<text transform="translate(1313.5,492) scale(0.9,1)" style="font-size:10px;fill:#000;" stroke="#000" stroke-width="0.1">70</text>
<text transform="translate(1313.5,530) scale(0.9,1)" style="font-size:10px;fill:#000;" stroke="#000" stroke-width="0.1">30</text>
<rect x="1310" y="553" width="2" height="1" fill="#000"/>
<text transform="translate(1313.5,551) scale(0.9,1)" style="font-size:10px;fill:#000;" stroke="#000" stroke-width="0.1">0</text>
<rect x="6" y="554" width="1" height="3" fill="#000"/>
<text transform="translate(5.2,566) scale(0.985,1)" style="font-size:9.5px;fill:#000;" stroke="#000" stroke-width="0.2">17 Jul 2018</text>
<rect x="70" y="554" width="1" height="3" fill="#000"/>
<text transform="translate(69.2,566) scale(0.985,1)" style="font-size:9.5px;fill:#000;" stroke="#000" stroke-width="0.2">27 Jul 2018</text>
<rect x="134" y="554" width="1" height="3" fill="#000"/>
<text transform="translate(133.2,566) scale(0.985,1)" style="font-size:9.5px;fill:#000;" stroke="#000" stroke-width="0.2">8 Aug 2018</text>
<rect x="198" y="554" width="1" height="3" fill="#000"/>
<text transform="translate(197.2,566) scale(0.985,1)" style="font-size:9.5px;fill:#000;" stroke="#000" stroke-width="0.2">20 Aug 2018</text>
<rect x="262" y="554" width="1" height="3" fill="#000"/>
<text transform="translate(261.2,566) scale(0.985,1)" style="font-size:9.5px;fill:#000;" stroke="#000" stroke-width="0.2">30 Aug 2018</text>
<rect x="326" y="554" width="1" height="3" fill="#000"/>
<text transform="translate(325.2,566) scale(0.985,1)" style="font-size:9.5px;fill:#000;" stroke="#000" stroke-width="0.2">10 Sep 2018</text>
<rect x="390" y="554" width="1" height="3" fill="#000"/>
<text transform="translate(389.2,566) scale(0.985,1)" style="font-size:9.5px;fill:#000;" stroke="#000" stroke-width="0.2">19 Sep 2018</text>
<rect x="454" y="554" width="1" height="3" fill="#000"/>
<text transform="translate(453.2,566) scale(0.985,1)" style="font-size:9.5px;fill:#000;" stroke="#000" stroke-width="0.2">28 Sep 2018</text>
<rect x="518" y="554" width="1" height="3" fill="#000"/>
<text transform="translate(517.2,566) scale(0.985,1)" style="font-size:9.5px;fill:#000;" stroke="#000" stroke-width="0.2">8 Oct 2018</text>
<rect x="582" y="554" width="1" height="3" fill="#000"/>
<text transform="translate(581.2,566) scale(0.985,1)" style="font-size:9.5px;fill:#000;" stroke="#000" stroke-width="0.2">17 Oct 2018</text>
<rect x="646" y="554" width="1" height="3" fill="#000"/>
<text transform="translate(645.2,566) scale(0.985,1)" style="font-size:9.5px;fill:#000;" stroke="#000" stroke-width="0.2">26 Oct 2018</text>
<rect x="710" y="554" width="1" height="3" fill="#000"/>
<text transform="translate(709.2,566) scale(0.985,1)" style="font-size:9.5px;fill:#000;" stroke="#000" stroke-width="0.2">5 Nov 2018</text>
<rect x="774" y="554" width="1" height="3" fill="#000"/>
<text transform="translate(773.2,566) scale(0.985,1)" style="font-size:9.5px;fill:#000;" stroke="#000" stroke-width="0.2">14 Nov 2018</text>
<rect x="838" y="554" width="1" height="3" fill="#000"/>
<text transform="translate(837.2,566) scale(0.985,1)" style="font-size:9.5px;fill:#000;" stroke="#000" stroke-width="0.2">23 Nov 2018</text>
<rect x="902" y="554" width="1" height="3" fill="#000"/>
<text transform="translate(901.2,566) scale(0.985,1)" style="font-size:9.5px;fill:#000;" stroke="#000" stroke-width="0.2">3 Dec 2018</text>
<rect x="966" y="554" width="1" height="3" fill="#000"/>
<text transform="translate(965.2,566) scale(0.985,1)" style="font-size:9.5px;fill:#000;" stroke="#000" stroke-width="0.2">12 Dec 2018</text>
<rect x="1030" y="554" width="1" height="3" fill="#000"/>
<text transform="translate(1029.2,566) scale(0.985,1)" style="font-size:9.5px;fill:#000;" stroke="#000" stroke-width="0.2">21 Dec 2018</text>
<path d="M9 43 L12.5 39 L16 43 Z" fill="#000" shape-rendering="geometricPrecision"/>
<text transform="translate(21,44) scale(0.96,1)" style="font-size:10px;fill:#000;letter-spacing:0.2px" stroke="#000" stroke-width="0.1">USDCAD,Daily</text>
<text transform="translate(93.3,44) scale(0.9,1)" style="font-size:10px;fill:#000;" stroke="#000" stroke-width="0.1">1.35923</text>
<text transform="translate(129.3,44) scale(0.9,1)" style="font-size:10px;fill:#000;" stroke="#000" stroke-width="0.1">1.35976</text>
<text transform="translate(165.10000000000002,44) scale(0.9,1)" style="font-size:10px;fill:#000;" stroke="#000" stroke-width="0.1">1.35788</text>
<text transform="translate(201.3,44) scale(0.9,1)" style="font-size:10px;fill:#000;" stroke="#000" stroke-width="0.1">1.35802</text>
<text transform="translate(9.8,395) scale(0.93,1)" style="font-size:10px;fill:#000;letter-spacing:0.1px" stroke="#000" stroke-width="0.05">MACD(12,26,9) 0.008169 0.005902</text>
<text transform="translate(9.8,471) scale(0.92,1)" style="font-size:10px;fill:#000;letter-spacing:0.1px" stroke="#000" stroke-width="0.05">RSI(14) 68.2620</text>
<defs><linearGradient id="gt" x1="0" y1="0" x2="0" y2="1"><stop offset="0" stop-color="#5a5aff"/><stop offset="1" stop-color="#2a2aea"/></linearGradient>
<linearGradient id="gb" x1="0" y1="0" x2="0" y2="1"><stop offset="0" stop-color="#2a2ae6"/><stop offset="1" stop-color="#0000c0"/></linearGradient>
<linearGradient id="gs" x1="0" y1="0" x2="0" y2="1"><stop offset="0" stop-color="#f4f4f4"/><stop offset="1" stop-color="#d4d4d4"/></linearGradient></defs>
<rect x="9" y="52" width="52" height="25" fill="url(#gt)"/>
<rect x="9" y="76" width="109" height="40" fill="url(#gb)"/>
<rect x="176" y="52" width="52" height="25" fill="url(#gt)"/>
<rect x="120" y="76" width="108" height="40" fill="url(#gb)"/>
<rect x="118" y="76" width="2" height="40" fill="#fff"/>
<g fill="none" stroke="#0000a8" stroke-width="1"><path d="M9.5 115.5 V52.5 H60.5 V76.5"/><path d="M120.5 115.5 V76.5 H176.5 V52.5 H227.5 V115.5 H120.5"/><path d="M9.5 115.5 H117.5 V76.5"/></g>
<rect x="13" y="76" width="45" height="1" fill="#8080ff"/>
<rect x="180" y="76" width="45" height="1" fill="#8080ff"/>
<rect x="63" y="52" width="111" height="22" fill="#a8a8a8"/><rect x="64" y="53" width="109" height="20" fill="#fff"/>
<rect x="64" y="53" width="20" height="20" fill="url(#gs)"/><rect x="84" y="53" width="1" height="20" fill="#c0c0c0"/>
<rect x="153" y="53" width="20" height="20" fill="url(#gs)"/><rect x="152" y="53" width="1" height="20" fill="#c0c0c0"/>
<path d="M70.5 61.5 L76.5 61.5 L73.5 64.5 Z" fill="#5a6ab8" shape-rendering="geometricPrecision"/>
<path d="M159.5 63.5 L165.5 63.5 L162.5 60.5 Z" fill="#5a6ab8" shape-rendering="geometricPrecision"/>
<text x="124.5" y="67" style="font-size:12px;fill:#000">0.50</text>
<g style="fill:#fff">
<text transform="translate(21.2,68) scale(0.88,1)" style="font-size:12.5px;fill:#f0f0ff;">SELL</text>
<text transform="translate(189.5,68) scale(0.88,1)" style="font-size:12.5px;fill:#f0f0ff;">BUY</text>
<text transform="translate(29,107) scale(0.97,1)" style="font-size:12px;fill:#fff;font-weight:bold">1.35</text>
<text transform="translate(56.8,107) scale(0.88,1)" style="font-size:36px;fill:#fff;">80</text>
<text transform="translate(95.5,91) scale(1,1)" style="font-size:12px;fill:#fff;font-weight:bold">2</text>
<text transform="translate(139,107) scale(0.97,1)" style="font-size:12px;fill:#fff;font-weight:bold">1.35</text>
<text transform="translate(167.8,107) scale(0.88,1)" style="font-size:36px;fill:#fff;">82</text>
<text transform="translate(206.8,91) scale(1,1)" style="font-size:12px;fill:#fff;font-weight:bold">7</text>
</g>
<rect x="1" y="576" width="1348" height="1" fill="#000"/>
<rect x="0" y="596" width="1349" height="1" fill="#fafafa"/>
<rect x="0" y="597" width="1349" height="3" fill="#f0f0f0"/>
<rect x="291" y="576" width="104" height="19" fill="#fff"/>
<rect x="291" y="576" width="1" height="19" fill="#000"/><rect x="394" y="576" width="1" height="19" fill="#000"/><rect x="291" y="594" width="104" height="1" fill="#000"/>
<rect x="292" y="576" width="102" height="1" fill="#fff"/>
<text transform="translate(18.8,591) scale(1.0,1)" style="font-size:12px;fill:#6d6d6d;letter-spacing:0.05px">EURUSD,H4</text>
<text transform="translate(109.2,591) scale(1.0,1)" style="font-size:12px;fill:#6d6d6d;letter-spacing:0.05px">AUDUSD,Daily</text>
<text transform="translate(212.2,591) scale(1.0,1)" style="font-size:12px;fill:#6d6d6d;letter-spacing:0.05px">USDCHF,H4</text>
<text transform="translate(404.2,591) scale(1.0,1)" style="font-size:12px;fill:#6d6d6d;letter-spacing:0.05px">USDCNH,H4</text>
<text transform="translate(497.2,591) scale(1.0,1)" style="font-size:12px;fill:#6d6d6d;letter-spacing:0.05px">USDJPY,M15</text>
<text transform="translate(593.2,591) scale(1.0,1)" style="font-size:12px;fill:#6d6d6d;letter-spacing:0.05px">XAUUSD,H1</text>
<text transform="translate(685.2,591) scale(1.0,1)" style="font-size:12px;fill:#6d6d6d;letter-spacing:0.05px">GBPUSD,Weekly</text>
<text transform="translate(801.2,591) scale(1.0,1)" style="font-size:12px;fill:#6d6d6d;letter-spacing:0.05px">SP500,H1</text>
<text transform="translate(301.5,591) scale(1.0,1)" style="font-size:12px;fill:#000;letter-spacing:0.1px">USDCAD,Daily</text>
<rect x="99" y="579" width="1" height="14" fill="#5a5a5a"/>
<rect x="203" y="579" width="1" height="14" fill="#5a5a5a"/>
<rect x="487" y="579" width="1" height="14" fill="#5a5a5a"/>
<rect x="584" y="579" width="1" height="14" fill="#5a5a5a"/>
<rect x="675" y="579" width="1" height="14" fill="#5a5a5a"/>
<rect x="791" y="579" width="1" height="14" fill="#5a5a5a"/>
<rect x="867" y="579" width="1" height="14" fill="#5a5a5a"/>
<path d="M1321.5 585 L1325.5 581.5 L1325.5 588.5 Z" fill="#a8a8a8" shape-rendering="geometricPrecision"/>
<path d="M1345 585 L1341 581.5 L1341 588.5 Z" fill="#a8a8a8" shape-rendering="geometricPrecision"/>
</svg></body></html>
